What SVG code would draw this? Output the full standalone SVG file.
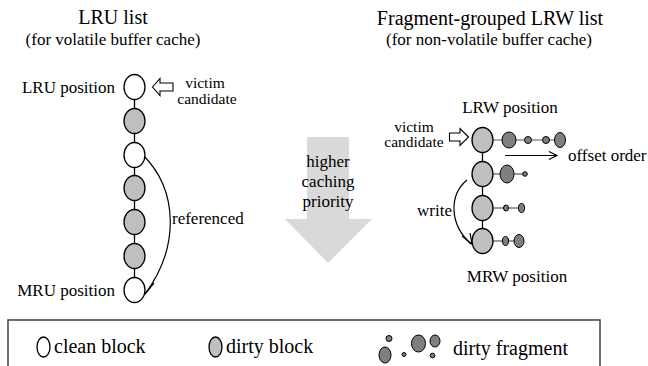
<svg xmlns="http://www.w3.org/2000/svg" width="648" height="366" viewBox="0 0 648 366" font-family="'Liberation Serif', 'DejaVu Serif', serif">
<style>
text{font-family:'Liberation Serif','DejaVu Serif',serif;fill:#000}
.t{font-size:20px}
.s{font-size:17px}
.b{font-size:17px}
.v{font-size:15.5px}
.lg{font-size:20px}
.clean{fill:#fff;stroke:#000;stroke-width:1.3}
.dirty{fill:#bfbfbf;stroke:#000;stroke-width:1.3}
.frag{fill:#7f7f7f;stroke:#000;stroke-width:1}
.link{stroke:#000;stroke-width:1.3;fill:none}
.flink{stroke:#595959;stroke-width:1.2;fill:none}
.conn{stroke:#000;stroke-width:1.2;fill:none}
.hollow{fill:#fff;stroke:#000;stroke-width:1.1}
</style>
<rect width="648" height="366" fill="#fff"/>

<g id="titles">
<text class="t" x="113" y="24" text-anchor="middle">LRU list</text>
<text class="s" x="113" y="44.5" text-anchor="middle">(for volatile buffer cache)</text>
<text class="t" x="490" y="25" text-anchor="middle">Fragment-grouped LRW list</text>
<text class="s" x="489" y="45" text-anchor="middle">(for non-volatile buffer cache)</text>
</g>

<g id="priority">
<polygon points="307,137 349,137 349,219 372,219 328,263 285,219 307,219" fill="#d9d9d9"/>
<text class="b" x="328" y="167" text-anchor="middle">higher</text>
<text class="b" x="328" y="187" text-anchor="middle">caching</text>
<text class="b" x="328" y="207" text-anchor="middle">priority</text>
</g>

<g id="connectors">
<line class="link" x1="134.5" y1="87" x2="134.5" y2="290"/>
<line class="link" x1="482.5" y1="140" x2="482.5" y2="241"/>
<line class="flink" x1="493" y1="140" x2="560" y2="140"/>
<line class="flink" x1="493" y1="174" x2="525" y2="174"/>
<line class="flink" x1="493" y1="208" x2="522" y2="208"/>
<line class="flink" x1="493" y1="241" x2="519" y2="241"/>
<path class="conn" d="M143,155 C178,190 180,247 145,294"/>
<path class="conn" d="M140,282 L145,294 L154,283"/>
<path class="conn" d="M467,180 C449,195 449,224 471,244"/>
<path class="conn" d="M462,236 L472,244 L470,233"/>
<line class="conn" x1="505" y1="155.5" x2="556" y2="155.5"/>
<path class="conn" d="M549,151.5 L557,155.5 L549,159.5"/>
</g>

<g id="lru-1"><ellipse class="clean" cx="134.5" cy="87" rx="10.5" ry="12.5"/></g>
<g id="lru-2"><ellipse class="dirty" cx="134.5" cy="121" rx="10.5" ry="12.5"/></g>
<g id="lru-3"><ellipse class="clean" cx="134.5" cy="155" rx="10.5" ry="12.5"/></g>
<g id="lru-4"><ellipse class="dirty" cx="134.5" cy="188" rx="10.5" ry="12.5"/></g>
<g id="lru-5"><ellipse class="dirty" cx="134.5" cy="222" rx="10.5" ry="12.5"/></g>
<g id="lru-6"><ellipse class="dirty" cx="134.5" cy="256" rx="10.5" ry="12.5"/></g>
<g id="lru-7"><ellipse class="clean" cx="134.5" cy="290" rx="10.5" ry="12.5"/></g>

<g id="lru-labels">
<text class="b" x="115" y="93" text-anchor="end">LRU position</text>
<text class="b" x="115" y="296" text-anchor="end">MRU position</text>
<text class="v" x="205" y="88" text-anchor="middle">victim</text>
<text class="v" x="207" y="103.5" text-anchor="middle">candidate</text>
<text class="b" x="172" y="224">referenced</text>
<polygon class="hollow" points="152.5,87 160,78.5 160,83 173,83 173,91 160,91 160,95.5"/>
</g>

<g id="lrw-1">
<ellipse class="dirty" cx="482.5" cy="140" rx="10.5" ry="12.5"/>
<ellipse class="frag" cx="509" cy="140" rx="7" ry="8"/>
<circle class="frag" cx="528" cy="140" r="3.5"/>
<circle class="frag" cx="546" cy="140" r="3.5"/>
<ellipse class="frag" cx="560" cy="140" rx="5.5" ry="7.5"/>
</g>
<g id="lrw-2">
<ellipse class="dirty" cx="482.5" cy="174" rx="10.5" ry="12.5"/>
<ellipse class="frag" cx="507" cy="174" rx="7" ry="9"/>
<circle class="frag" cx="525" cy="174" r="2.3"/>
</g>
<g id="lrw-3">
<ellipse class="dirty" cx="482.5" cy="208" rx="10.5" ry="12.5"/>
<ellipse class="frag" cx="506" cy="208" rx="2.5" ry="3"/>
<ellipse class="frag" cx="521.5" cy="208" rx="3" ry="4.5"/>
</g>
<g id="lrw-4">
<ellipse class="dirty" cx="482.5" cy="241" rx="10.5" ry="12.5"/>
<ellipse class="frag" cx="505.5" cy="241" rx="3" ry="4.5"/>
<ellipse class="frag" cx="519" cy="241" rx="5" ry="6.5"/>
</g>

<g id="lrw-labels">
<text class="b" x="510" y="113" text-anchor="middle">LRW position</text>
<text class="v" x="414" y="131.5" text-anchor="middle">victim</text>
<text class="v" x="414" y="147" text-anchor="middle">candidate</text>
<polygon class="hollow" points="468.5,137 460,128.5 460,133 449.5,133 449.5,141 460,141 460,145.5"/>
<text class="b" x="568" y="161">offset order</text>
<text class="b" x="417" y="216">write</text>
<text class="b" x="517" y="282" text-anchor="middle">MRW position</text>
</g>

<g id="legend">
<path d="M8,367 L8,320 L600,320 L600,367" fill="none" stroke="#404040" stroke-width="1.5"/>
<ellipse class="clean" cx="43.5" cy="347" rx="6.5" ry="10"/>
<text class="lg" x="54" y="353">clean block</text>
<ellipse class="dirty" cx="215.5" cy="347" rx="6.5" ry="10"/>
<text class="lg" x="226" y="353">dirty block</text>
<circle class="frag" cx="389" cy="338.5" r="3"/>
<ellipse class="frag" cx="385" cy="355" rx="6" ry="8"/>
<circle class="frag" cx="404" cy="354.5" r="2"/>
<ellipse class="frag" cx="418.5" cy="343.5" rx="7" ry="8.5"/>
<ellipse class="frag" cx="435" cy="341" rx="5" ry="6"/>
<circle class="frag" cx="432.5" cy="355.5" r="2.3"/>
<text class="lg" x="453" y="355">dirty fragment</text>
</g>
</svg>
